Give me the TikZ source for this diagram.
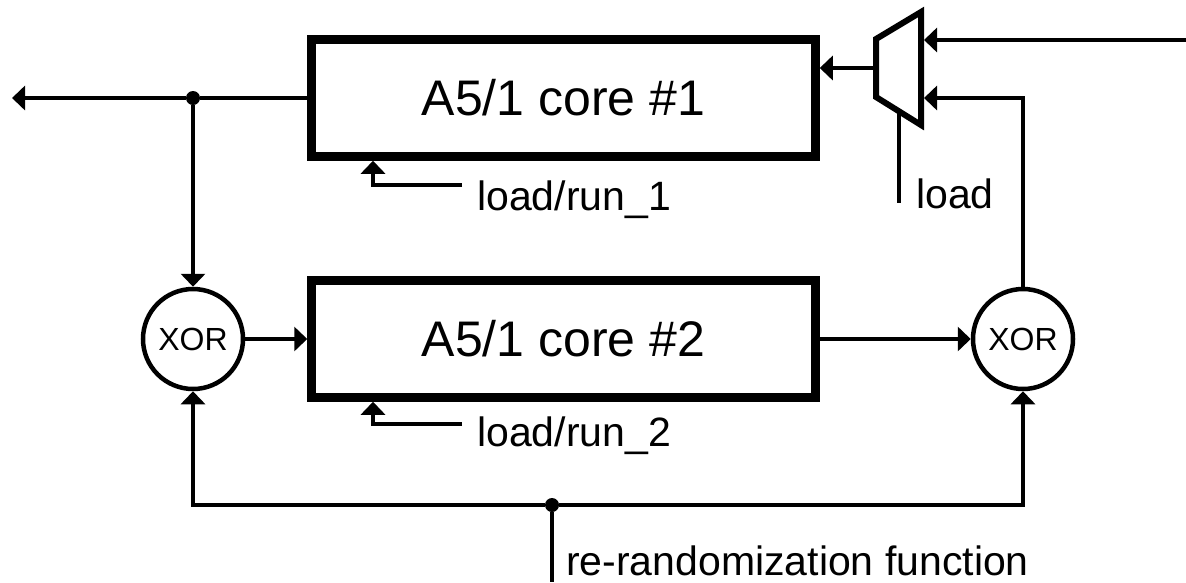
\documentclass[tikz,border=0pt]{standalone}
\usepackage{fontspec}
\setmainfont{Liberation Sans}
\usetikzlibrary{arrows.meta}
\begin{document}
\begin{tikzpicture}[x=1pt,y=-1pt,
  wire/.style={line width=3.8pt},
  arr/.style={wire,-{Triangle[length=13pt,width=24pt]}},
  core/.style={draw,line width=8.5pt,minimum width=504pt,minimum height=117pt,inner sep=0pt,font=\fontsize{50}{54}\selectfont},
  xorc/.style={draw,circle,line width=4.5pt,minimum size=100pt,inner sep=0pt,font=\fontsize{32}{35}\selectfont},
  lbl/.style={font=\fontsize{41}{46}\selectfont,inner sep=0pt},
  jdot/.style={circle,fill,inner sep=0pt,minimum size=14pt},
  muxs/.style={line width=6pt,line join=miter}]
\useasboundingbox (0,0) rectangle (1186,582);
% blocks
\node[core] (c1) at (563.5,98) {A5/1 core \#1};
\node[core] (c2) at (563.5,339) {A5/1 core \#2};
\node[xorc] (x1) at (193,339) {XOR};
\node[xorc] (x2) at (1023,339) {XOR};
% multiplexer
\coordinate (m1) at (876,39);
\coordinate (m2) at (921,12);
\coordinate (m3) at (921,125);
\coordinate (m4) at (876,97);
\draw[muxs] (m1) -- (m2) -- (m3) -- (m4) -- cycle;
\coordinate (mo) at (874,68);
\coordinate (mi1) at (924,40);
\coordinate (mi2) at (924,98);
\coordinate (mload) at (899,113);
\coordinate (ldend) at (899,203);
\coordinate (inR) at (1186,40);
% labels
\node[lbl,anchor=base west] (ld) at (916,208) {load};
\node[lbl,anchor=base west] (lr1) at (477,210) {load/run\_1};
\node[lbl,anchor=base west] (lr2) at (477,446) {load/run\_2};
\node[lbl,anchor=base west] (rr) at (566,575) {re-randomization function};
% junctions
\node[jdot] (j1) at (193,98) {};
\node[jdot] (j2) at (552,505) {};
\coordinate (outL) at (12,98);
\coordinate (rb) at (552,582);
\coordinate (a1) at (373,0);
\coordinate (lr1s) at (462,185);
\coordinate (lr2s) at (462,424);
% connectors
\draw[arr] (inR) -- (mi1);
\draw[arr] (x2.north) -- (x2.north |- mi2) -- (mi2);
\draw[arr] (mo) -- (mo -| c1.east);
\draw[wire] (mload) -- (ldend);
\draw[wire] (c1.west) -- (j1);
\draw[arr] (j1) -- (outL);
\draw[arr] (j1) -- (x1.north);
\draw[arr] (x1.east) -- (c2.west);
\draw[arr] (c2.east) -- (x2.west);
\draw[arr] (lr1s) -| (c1.south -| a1);
\draw[arr] (lr2s) -| (c2.south -| a1);
\draw[arr] (j2) -| (x1.south);
\draw[arr] (j2) -| (x2.south);
\draw[wire] (j2) -- (rb);
\end{tikzpicture}
\end{document}
